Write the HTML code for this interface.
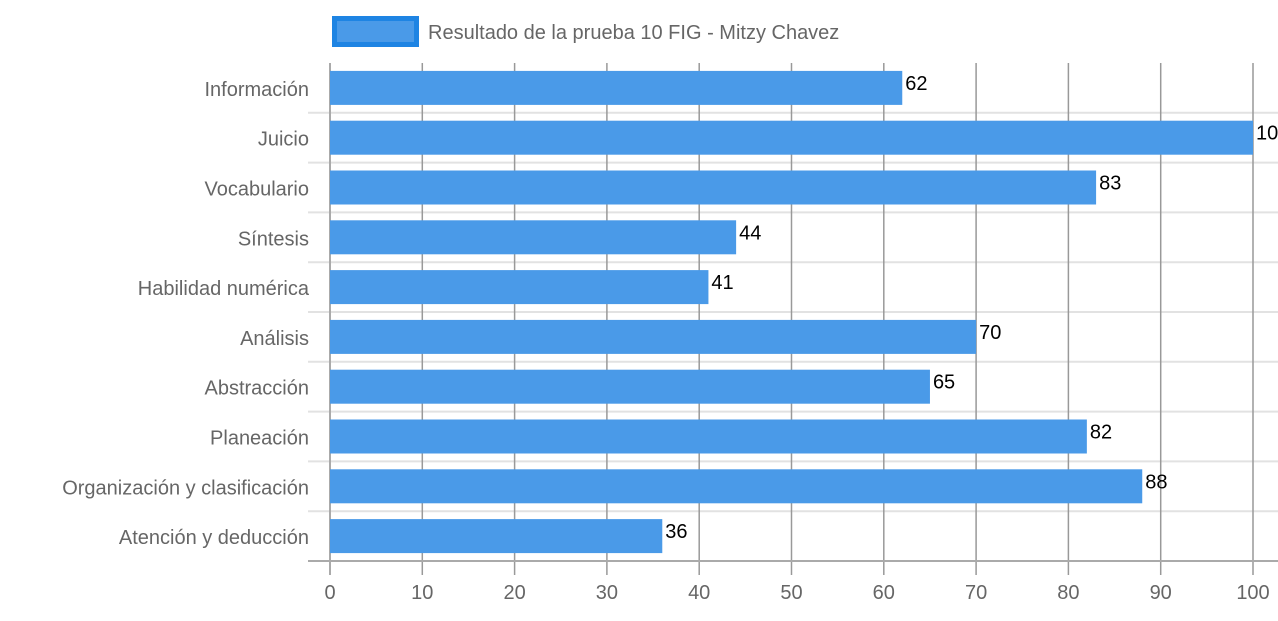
<!DOCTYPE html>
<html><head><meta charset="utf-8"><style>
body{margin:0;background:#fff;width:1278px;height:616px;overflow:hidden;font-family:"Liberation Sans",sans-serif}
</style></head><body>
<svg width="1278" height="616" id="c">
<g>
<rect x="334.5" y="18.5" width="82" height="26" fill="#4a9ae8" stroke="#1e84e3" stroke-width="5"/>
<text x="428" y="39" font-size="20" fill="#666">Resultado de la prueba 10 FIG - Mitzy Chavez</text>
</g>
<g id="grid"></g><g id="bars"></g><g id="labels"></g>
</svg>
<script>
const categories=["Información","Juicio","Vocabulario","Síntesis","Habilidad numérica","Análisis","Abstracción","Planeación","Organización y clasificación","Atención y deducción"];
const values=[62,100,83,44,41,70,65,82,88,36];
const ticks=[0,10,20,30,40,50,60,70,80,90,100];
const ns="http://www.w3.org/2000/svg";
const x0=330,x1=1253,yTop=63,yBot=561;
const xs=v=>x0+(v/100)*(x1-x0);
const step=(yBot-yTop)/categories.length;
const yc=i=>yTop+step*(i+0.5);
function mk(t,a,p){const e=document.createElementNS(ns,t);for(const k in a)e.setAttribute(k,a[k]);p.appendChild(e);return e;}
const g=document.getElementById('grid'),b=document.getElementById('bars'),l=document.getElementById('labels');
for(let i=1;i<categories.length;i++){const y=yTop+step*i;
const e=mk('line',{x1:308,x2:1278,y1:y,y2:y,stroke:'#e2e2e2','stroke-width':2},g);

}
ticks.forEach(t=>{const x=xs(t);
const e=mk('line',{x1:x,x2:x,y1:yTop,y2:575,stroke:t==0?'#aaa':'#999','stroke-width':t==0?2:1.5},g);


const tx=mk('text',{x:x,y:599,'font-size':20,fill:'#666','text-anchor':'middle'},l);tx.textContent=t;

});
const ax=mk('line',{x1:308,x2:1278,y1:yBot,y2:yBot,stroke:'#aaa','stroke-width':2},g);


categories.forEach((c,i)=>{const y=yc(i);
const r=mk('rect',{x:x0,y:y-17,width:xs(values[i])-x0,height:34,fill:'#4a9ae8'},b);


const t=mk('text',{x:309,y:y+8,'font-size':20,fill:'#666','text-anchor':'end'},l);t.textContent=c;


const v=mk('text',{x:xs(values[i])+3,y:y+2,'font-size':20,fill:'#000'},l);v.textContent=values[i];

});
</script>
</body></html>
